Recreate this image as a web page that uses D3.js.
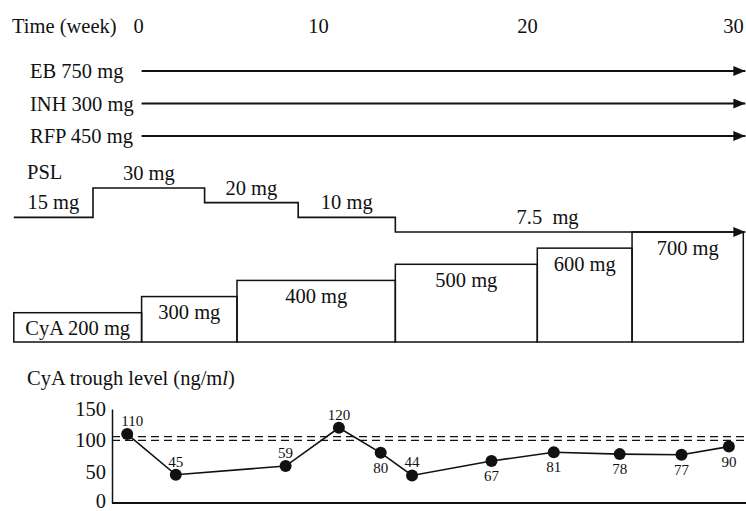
<!doctype html>
<html lang="en">
<head>
    <meta charset="UTF-8">
    <title>CyA / PSL course</title>
    <script src="https://d3js.org/d3.v7.min.js"></script>
    <style>
        body { margin: 0; background: #fff; }
        text { font-family: "Liberation Serif", "Times New Roman", serif; fill: #111; }
    </style>
</head>
<body>
<div id="chart"></div>
<script>

    //time axis (weeks)
    const timeTicks = [0, 10, 20, 30];

    //anti-tuberculosis drugs, given the whole time
    const drugs = ["EB 750 mg", "INH 300 mg", "RFP 450 mg"];
    const drugStart = [0.2, 0.2, 0.2];
    const drugEnd = 30.6;

    //PSL steps (level = schematic step height)
    const pslStart = [-6.9, -2.5, 3.7, 8.9, 13.7];
    const pslDose = ["15 mg", "30 mg", "20 mg", "10 mg", "7.5\u00a0 mg"];
    const pslLevel = [1, 3, 2, 1, 0];
    const pslEnd = 30.6;

    //CyA dose steps
    const cyaStart = [-6.9, 0.2, 5.5, 13.7, 20.5, 25.1];
    const cyaDose = [200, 300, 400, 500, 600, 700];
    const cyaEnd = 30.5;

    //CyA trough level
    const troughWeek = [-0.6, 2.1, 8.2, 11, 13, 14.5, 18.3, 21.3, 24.5, 27.5, 29.8];
    const troughLevel = [110, 45, 59, 120, 80, 44, 67, 81, 78, 77, 90];
    const troughRange = [100, 106];
    const levelTicks = [0, 50, 100, 150];

    let width = 746, height = 511;
    let fontSize = 20.5;

    let svg = d3.select("#chart").append("svg")
        .attr("width", width)
        .attr("height", height)
        .style("display", "block")
        .style("background", "#fff");

    //arrow head
    svg.append("defs").append("marker")
        .attr("id", "arrow")
        .attr("markerUnits", "userSpaceOnUse")
        .attr("markerWidth", 13)
        .attr("markerHeight", 11)
        .attr("refX", 12)
        .attr("refY", 5)
        .attr("orient", "auto")
        .append("path")
        .attr("d", "M0,0L12,5L0,10Z")
        .attr("fill", "#111");

    //the printed week labels are not evenly spaced, so piecewise scale
    let x = d3.scaleLinear()
        .domain(timeTicks)
        .range([138, 318, 527, 733]);

    //top axis
    let topAxis = svg.append("g")
        .attr("transform", "translate(0,33)")
        .call(d3.axisTop(x).tickValues(timeTicks).tickSize(0).tickPadding(0));
    topAxis.select(".domain").remove();
    topAxis.selectAll("text")
        .style("font-family", "Liberation Serif, serif")
        .style("font-size", fontSize + "px")
        .attr("fill", "#111");

    svg.append("text")
        .attr("x", 12)
        .attr("y", 33)
        .style("font-size", fontSize + "px")
        .text("Time (week)");

    //drug arrows
    let drugY = d3.scalePoint().domain(drugs).range([71, 136]);

    drugs.forEach(function (d, i) {
        svg.append("text")
            .attr("x", 30)
            .attr("y", drugY(d) + 7)
            .style("font-size", fontSize + "px")
            .text(d);

        svg.append("line")
            .attr("x1", x(drugStart[i]))
            .attr("x2", x(drugEnd))
            .attr("y1", drugY(d))
            .attr("y2", drugY(d))
            .attr("stroke", "#111")
            .attr("stroke-width", 1.8)
            .attr("marker-end", "url(#arrow)");
    });

    //PSL step line
    let pslY = d3.scaleLinear().domain([0, 3]).range([232, 188]);

    let pslPoints = pslStart.map(function (s, i) { return [s, pslLevel[i]]; });
    pslPoints.push([pslEnd, pslLevel[pslLevel.length - 1]]);

    let stepLine = d3.line()
        .x(function (d) { return x(d[0]); })
        .y(function (d) { return pslY(d[1]); })
        .curve(d3.curveStepAfter);

    svg.append("path")
        .attr("d", stepLine(pslPoints))
        .attr("fill", "none")
        .attr("stroke", "#111")
        .attr("stroke-width", 1.6)
        .attr("marker-end", "url(#arrow)");

    svg.append("text")
        .attr("x", 27)
        .attr("y", 179)
        .style("font-size", fontSize + "px")
        .text("PSL");

    pslDose.forEach(function (d, i) {
        let s = pslStart[i];
        let e = i < pslStart.length - 1 ? pslStart[i + 1] : pslEnd;
        let mid = i < pslStart.length - 1 ? (x(s) + x(e)) / 2 : x(21);
        svg.append("text")
            .attr("x", mid)
            .attr("y", pslY(pslLevel[i]) - 8)
            .attr("text-anchor", "middle")
            .style("font-size", fontSize + "px")
            .text(d);
    });

    //CyA dose boxes
    let cyaY = d3.scaleLinear().domain([0, 700]).range([345, 232]);
    let boxBase = 342;

    let boxes = svg.selectAll(".cya")
        .data(cyaDose)
        .enter()
        .append("g")
        .attr("class", "cya");

    boxes.append("rect")
        .attr("x", function (d, i) { return x(cyaStart[i]); })
        .attr("y", function (d) { return cyaY(d); })
        .attr("width", function (d, i) {
            let e = i < cyaStart.length - 1 ? cyaStart[i + 1] : cyaEnd;
            return x(e) - x(cyaStart[i]);
        })
        .attr("height", function (d) { return boxBase - cyaY(d); })
        .attr("fill", "none")
        .attr("stroke", "#111")
        .attr("stroke-width", 1.5);

    boxes.append("text")
        .attr("x", function (d, i) {
            let e = i < cyaStart.length - 1 ? cyaStart[i + 1] : cyaEnd;
            return (x(cyaStart[i]) + x(e)) / 2;
        })
        .attr("y", function (d) { return cyaY(d) + 22.5; })
        .attr("text-anchor", "middle")
        .style("font-size", fontSize + "px")
        .text(function (d, i) { return (i === 0 ? "CyA " : "") + d + " mg"; });

    //trough level chart
    let title = svg.append("text")
        .attr("x", 27)
        .attr("y", 385)
        .style("font-size", fontSize + "px");
    title.append("tspan").text("CyA trough level (ng/m");
    title.append("tspan").style("font-style", "italic").text("l");
    title.append("tspan").text(")");

    let yl = d3.scaleLinear().domain([0, 150]).range([503, 409]);
    let left = 112, right = 746;

    let yAxis = svg.append("g")
        .attr("transform", "translate(" + left + ",0)")
        .call(d3.axisLeft(yl).tickValues(levelTicks).tickSize(0).tickSizeOuter(0).tickPadding(6));
    yAxis.select(".domain").attr("stroke", "#111").attr("stroke-width", 1.5);
    yAxis.selectAll("text")
        .style("font-family", "Liberation Serif, serif")
        .style("font-size", fontSize + "px")
        .attr("fill", "#111");
    //keep the bottom "0" inside the picture
    yAxis.selectAll(".tick text")
        .filter(function (d) { return d === 0; })
        .attr("dy", "0.2em");

    //baseline
    svg.append("line")
        .attr("x1", left)
        .attr("x2", right)
        .attr("y1", yl(0))
        .attr("y2", yl(0))
        .attr("stroke", "#111")
        .attr("stroke-width", 1.8);

    //target range dashed lines
    svg.selectAll(".range")
        .data(troughRange)
        .enter()
        .append("line")
        .attr("class", "range")
        .attr("x1", left)
        .attr("x2", right)
        .attr("y1", function (d) { return yl(d); })
        .attr("y2", function (d) { return yl(d); })
        .attr("stroke", "#111")
        .attr("stroke-width", 1.3)
        .attr("stroke-dasharray", "8,5");

    let points = troughWeek.map(function (w, i) { return {w: w, v: troughLevel[i]}; });

    let line = d3.line()
        .x(function (d) { return x(d.w); })
        .y(function (d) { return yl(d.v); });

    svg.append("path")
        .attr("d", line(points))
        .attr("fill", "none")
        .attr("stroke", "#111")
        .attr("stroke-width", 1.6);

    svg.selectAll(".dot")
        .data(points)
        .enter()
        .append("circle")
        .attr("class", "dot")
        .attr("cx", function (d) { return x(d.w); })
        .attr("cy", function (d) { return yl(d.v); })
        .attr("r", 6)
        .attr("fill", "#111");

    //value labels, some sit under the point
    let below = [4, 6, 7, 8, 9, 10];

    svg.selectAll(".val")
        .data(points)
        .enter()
        .append("text")
        .attr("class", "val")
        .attr("x", function (d, i) { return x(d.w) + (i === 0 ? 5 : 0); })
        .attr("y", function (d, i) { return below.indexOf(i) >= 0 ? yl(d.v) + 20 : yl(d.v) - 8; })
        .attr("text-anchor", "middle")
        .style("font-size", "15px")
        .text(function (d) { return d.v; });

</script>
</body>
</html>
